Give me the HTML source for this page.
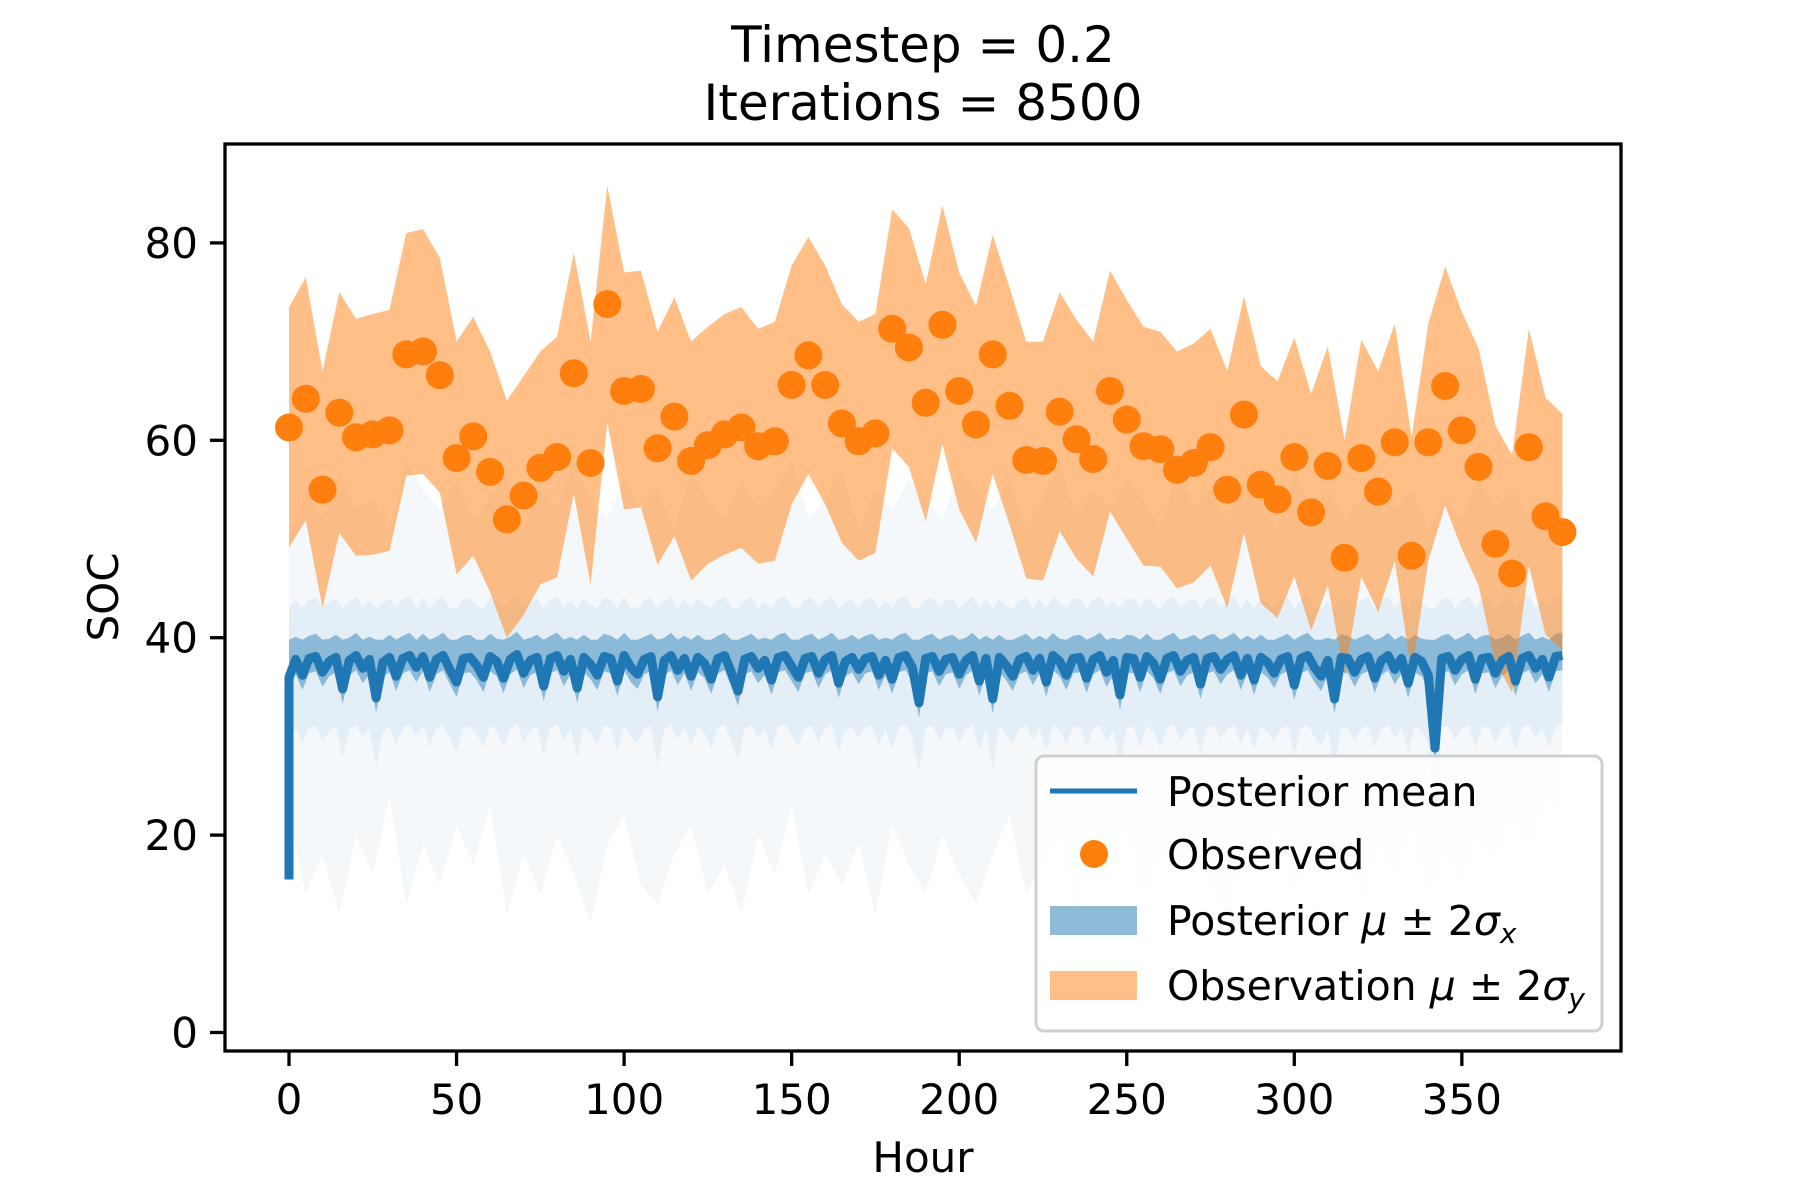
<!DOCTYPE html>
<html><head><meta charset="utf-8"><style>
html,body{margin:0;padding:0;background:#fff;}
svg{display:block;font-family:"DejaVu Sans","Liberation Sans",sans-serif;}
</style></head><body>
<svg id="chart" width="1800" height="1200" viewBox="0 0 1800 1200" xmlns="http://www.w3.org/2000/svg">
<rect width="1800" height="1200" fill="#fff"/>
<text x="923" y="62" font-size="50" text-anchor="middle">Timestep = 0.2</text>
<text x="923" y="120" font-size="50" text-anchor="middle">Iterations = 8500</text>
<g id="plot"></g>
<rect x="225" y="144" width="1396" height="907" fill="none" stroke="#000" stroke-width="3.3"/>
<g id="ticks"></g>
<text x="923" y="1172" font-size="42" text-anchor="middle">Hour</text>
<text x="0" y="0" font-size="42" text-anchor="middle" transform="translate(118,597) rotate(-90)">SOC</text>
<g>
<rect x="1036" y="756" width="566" height="275" rx="8" fill="#fff" fill-opacity="0.8" stroke="#d0d0d0" stroke-width="3"/>
<line x1="1050" y1="791" x2="1137" y2="791" stroke="#1f77b4" stroke-width="5"/>
<text x="1167" y="806" font-size="41">Posterior mean</text>
<circle cx="1094" cy="854" r="14" fill="#ff7f0e"/>
<text x="1167" y="869" font-size="41">Observed</text>
<rect x="1050" y="906" width="87" height="29" fill="#8fbbd9"/>
<text x="1167" y="935" font-size="41">Posterior <tspan font-style="italic">μ</tspan> ± 2<tspan font-style="italic">σ</tspan><tspan font-style="italic" font-size="28" dy="8">x</tspan></text>
<rect x="1050" y="971" width="87" height="29" fill="#ffbf86"/>
<text x="1167" y="1000" font-size="41">Observation <tspan font-style="italic">μ</tspan> ± 2<tspan font-style="italic">σ</tspan><tspan font-style="italic" font-size="28" dy="8">y</tspan></text>
</g>
</svg>
<script>
const obsHours = [];
for (let h = 0; h <= 380; h += 5) obsHours.push(h);
const observed = [61.3,64.2,55,62.8,60.3,60.6,61,68.7,69,66.6,58.2,60.4,56.8,52,54.4,57.2,58.3,66.8,57.7,73.8,65,65.2,59.2,62.4,57.9,59.5,60.6,61.3,59.4,59.9,65.6,68.6,65.6,61.7,59.9,60.7,71.3,69.4,63.8,71.7,65,61.6,68.7,63.5,58,57.9,62.9,60.1,58.1,65,62.1,59.4,59.1,57,57.7,59.3,55,62.6,55.5,54,58.3,52.7,57.4,48.1,58.2,54.8,59.8,48.3,59.8,65.5,61,57.3,49.5,46.5,59.3,52.3,50.7];
const obsHalfWidth = [12.2,12.3,12,12.2,12,12.2,12.2,12.3,12.4,11.9,11.8,12.1,12.2,12,12.1,11.8,12.2,12.2,12.3,12,12,12,11.8,12.1,12.1,12,12.2,12.2,11.9,12.1,12.1,12,12.1,12.1,12.1,12.1,12.1,12.1,12,12.1,12,12,12.1,12,12,12.1,12.1,12.1,11.9,12.2,12.1,12.1,11.9,12,12.1,12,12,12,12,12,12.1,12,12.1,11.9,12,12.2,12,12,12,12.1,12,12,12,12,12,12,12];
const hazeHours = obsHours;
const hazeHi = [50,55,52,57,53,54,51,58,55,53,56,52,54,57,51,55,53,58,54,52,56,53,55,51,57,54,52,56,53,55,58,52,54,57,51,55,53,56,54,52,57,55,53,56,51,54,58,52,55,53,56,54,51,57,53,55,52,56,54,51,57,53,55,52,54,56,53,55,51,54,52,56,53,55,52,54,50];
const hazeLo = [22,14,18,12,20,16,24,13,19,15,21,17,23,12,18,14,20,16,11,19,22,15,13,18,21,14,17,12,20,16,23,14,18,15,19,12,21,17,14,20,16,13,18,22,14,17,20,12,19,15,21,13,18,16,20,15,12,19,17,21,14,18,16,20,13,19,16,21,14,18,15,20,17,22,19,24,22];
const meanStep = 2;
const meanStart = 15.5;
const postMean = [36.0,37.8,36.2,37.9,38.1,36.5,37.6,38.0,34.8,37.7,38.2,36.9,37.8,33.9,37.5,38.0,36.1,37.9,38.2,37.0,
38.1,36.0,37.8,38.2,36.8,35.5,37.9,38.0,37.2,36.0,38.1,37.6,35.9,37.8,38.3,36.4,37.7,38.0,35.1,37.9,
38.2,36.6,37.8,34.9,38.0,37.3,36.2,38.1,37.9,35.6,38.2,37.0,36.3,37.8,38.1,34.0,37.7,38.2,36.7,37.9,
36.1,38.0,37.4,35.8,37.9,38.2,36.5,34.6,37.8,38.1,36.9,37.7,35.7,38.0,38.2,37.1,36.0,37.9,38.1,36.4,
37.8,38.2,35.4,37.6,38.0,36.8,37.9,38.1,36.2,37.7,35.8,38.0,38.2,37.0,33.4,37.9,38.1,36.6,37.8,38.0,
36.3,37.7,38.2,35.6,37.9,33.8,38.0,37.2,36.1,37.8,38.1,36.7,37.9,35.5,38.2,37.6,36.2,37.9,38.0,35.9,
37.8,38.2,36.5,37.7,34.2,38.0,37.9,36.0,38.1,37.4,35.8,37.9,38.2,36.6,37.7,38.0,35.3,37.9,38.1,36.8,
37.8,38.2,36.2,37.9,35.7,38.0,37.5,36.4,37.8,38.1,35.2,37.9,38.2,37.0,36.1,37.7,33.8,38.0,37.9,36.5,
37.8,38.1,35.9,37.7,38.2,36.8,37.9,35.4,38.0,37.6,36.2,28.8,37.9,38.1,36.7,37.8,38.2,35.8,37.9,38.0,
36.4,37.7,38.1,35.6,37.9,38.2,36.9,37.8,36.0,38.1,38.2];
const xTicks = [0,50,100,150,200,250,300,350];
const yTicks = [0,20,40,60,80];

const X = h => 289 + h * 3.351;
const Y = v => 1032.5 - v * 9.87;
const NS = 'http://www.w3.org/2000/svg';
const plot = document.getElementById('plot');
const ticks = document.getElementById('ticks');
function mk(tag, parent) { const e = document.createElementNS(NS, tag); parent.appendChild(e); return e; }
function bandPath(xs, hi, lo) {
  let d = '';
  xs.forEach((x, i) => { d += (i ? 'L' : 'M') + X(x).toFixed(1) + ',' + Y(hi[i]).toFixed(1); });
  for (let i = xs.length - 1; i >= 0; i--) d += 'L' + X(xs[i]).toFixed(1) + ',' + Y(lo[i]).toFixed(1);
  return d + 'Z';
}
const meanHours = postMean.map((_, i) => i * meanStep);

const haze = mk('path', plot);


haze.setAttribute('d', bandPath(hazeHours, hazeHi, hazeLo));
haze.setAttribute('fill', '#1f77b4'); haze.setAttribute('fill-opacity', '0.05');

const mid = mk('path', plot);


mid.setAttribute('d', bandPath(meanHours, postMean.map(v => Math.max(v, 37) + 6), postMean.map(v => v - 7)));
mid.setAttribute('fill', '#1f77b4'); mid.setAttribute('fill-opacity', '0.07');

const core = mk('path', plot);


core.setAttribute('d', bandPath(meanHours, postMean.map(v => Math.max(v, 37.5) + 2.3), postMean.map(v => v - 1.5)));
core.setAttribute('fill', '#1f77b4'); core.setAttribute('fill-opacity', '0.45');

const ob = mk('path', plot);


ob.setAttribute('d', bandPath(obsHours, observed.map((v, i) => v + obsHalfWidth[i]), observed.map((v, i) => v - obsHalfWidth[i])));
ob.setAttribute('fill', '#ff7f0e'); ob.setAttribute('fill-opacity', '0.5');

let md = 'M' + X(0) + ',' + Y(meanStart);
meanHours.forEach((h, i) => { md += 'L' + X(h).toFixed(1) + ',' + Y(postMean[i]).toFixed(1); });
const ml = mk('path', plot);


ml.setAttribute('d', md);
ml.setAttribute('fill', 'none'); ml.setAttribute('stroke', '#1f77b4');
ml.setAttribute('stroke-width', '9'); ml.setAttribute('stroke-linejoin', 'round');

observed.forEach((v, i) => {
  const c = mk('circle', plot);
  
  
  c.setAttribute('cx', X(obsHours[i]).toFixed(1));
  c.setAttribute('cy', Y(v).toFixed(1));
  c.setAttribute('r', '14');
  c.setAttribute('fill', '#ff7f0e');
});

xTicks.forEach(t => {
  const l = mk('line', ticks);
  
  
  l.setAttribute('x1', X(t)); l.setAttribute('x2', X(t));
  l.setAttribute('y1', 1051); l.setAttribute('y2', 1066);
  l.setAttribute('stroke', '#000'); l.setAttribute('stroke-width', '3.3');
  const tx = mk('text', ticks);
  
  
  tx.setAttribute('x', X(t)); tx.setAttribute('y', 1114);
  tx.setAttribute('font-size', '42'); tx.setAttribute('text-anchor', 'middle');
  tx.textContent = t;
});
yTicks.forEach(t => {
  const l = mk('line', ticks);
  
  
  l.setAttribute('x1', 210); l.setAttribute('x2', 225);
  l.setAttribute('y1', Y(t)); l.setAttribute('y2', Y(t));
  l.setAttribute('stroke', '#000'); l.setAttribute('stroke-width', '3.3');
  const tx = mk('text', ticks);
  
  
  tx.setAttribute('x', 198); tx.setAttribute('y', Y(t) + 15);
  tx.setAttribute('font-size', '42'); tx.setAttribute('text-anchor', 'end');
  tx.textContent = t;
});
</script>
</body></html>
